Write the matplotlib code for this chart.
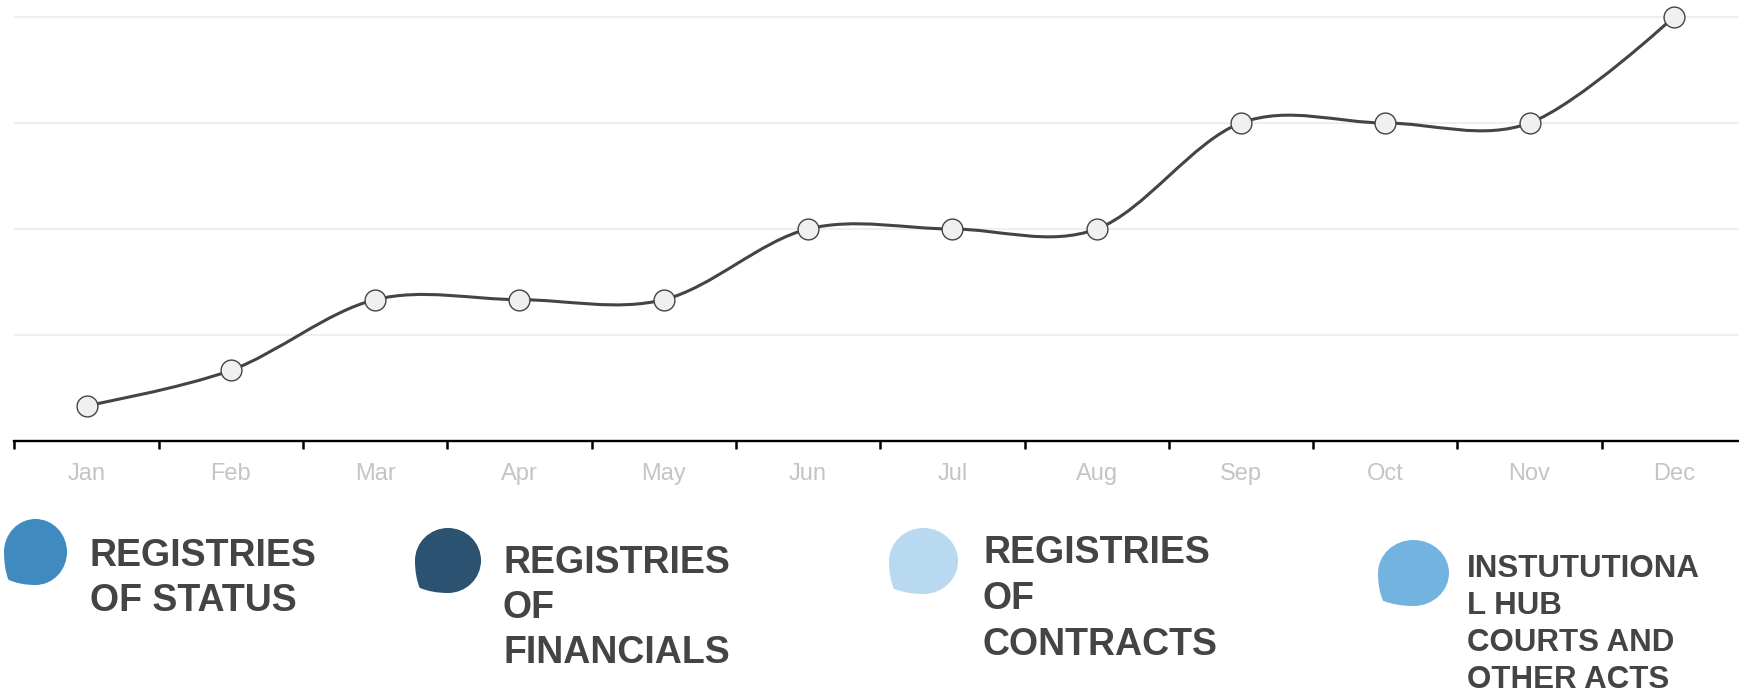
import numpy as np
import matplotlib
matplotlib.use('Agg')
from matplotlib import pyplot as plt
from matplotlib.path import Path
from matplotlib.patches import PathPatch

plt.rcParams['font.family'] = ['Liberation Sans', 'DejaVu Sans']

#########################################
### Data
#########################################
months = ['Jan', 'Feb', 'Mar', 'Apr', 'May', 'Jun',
          'Jul', 'Aug', 'Sep', 'Oct', 'Nov', 'Dec']
values = [1, 2, 4, 4, 4, 6, 6, 6, 9, 9, 9, 12]
grid_vals = [3, 6, 9, 12]

legend_labels = ['REGISTRIES\nOF STATUS',
                 'REGISTRIES\nOF\nFINANCIALS',
                 'REGISTRIES\nOF\nCONTRACTS',
                 'INSTUTUTIONA\nL HUB\nCOURTS AND\nOTHER ACTS']
legend_colors = ['#3f8bc0', '#2b5270', '#b8d9f0', '#72b3e0']

W, H = 1739, 693
fig = plt.figure(figsize=(W / 100, H / 100), dpi=100)

# main axes (pixel layout: axis line at y=441, left end at x=14)
x_left, x_right = 14.4, 1746.0
y_axis = 441.0
ax = fig.add_axes([x_left / W, (H - y_axis) / H, (x_right - x_left) / W, y_axis / H])
unit = (441 - 17) / 12.0
ax.set_xlim(-0.5, len(months) - 0.5)
ax.set_ylim(0, y_axis / unit)

for g in grid_vals:
    ax.axhline(g, color='#efefef', lw=1.5, zorder=1)

# cardinal spline (d3 curveCardinal style) through the data points
xs = np.arange(len(values), dtype=float)
ys = np.array(values, dtype=float)
pts = np.column_stack([xs, ys])
k = 1.0 / 6.0
verts = [tuple(pts[0])]
codes = [Path.MOVETO]
n = len(pts)
for i in range(n - 1):
    p_prev = pts[i - 1] if i > 0 else pts[i + 1]
    p_next = pts[i + 2] if i + 2 < n else pts[i]
    if i == 0:
        c1 = pts[0]
    else:
        c1 = pts[i] + k * (pts[i + 1] - p_prev)
    if i + 2 < n:
        c2 = pts[i + 1] - k * (p_next - pts[i])
    else:
        c2 = pts[i + 1]
    verts += [tuple(c1), tuple(c2), tuple(pts[i + 1])]
    codes += [Path.CURVE4] * 3
ax.add_patch(PathPatch(Path(verts, codes), facecolor='none', edgecolor='#444444',
                       lw=2.2, zorder=3, capstyle='round'))
ax.plot(xs, ys, 'o', ms=15, mfc='#f0f0f0', mec='#444444', mew=1.0, zorder=4, clip_on=False)

for s in ['top', 'right', 'left']:
    ax.spines[s].set_visible(False)
ax.spines['bottom'].set_color('black')
ax.spines['bottom'].set_linewidth(1.7)
ax.set_yticks([])
ax.set_xticks(xs)
ax.set_xticklabels(months, fontsize=17, color='#c4c4c4')
ax.set_xticks(np.arange(-0.5, len(months), 1.0), minor=True)
ax.tick_params(axis='x', which='major', length=0, pad=15.5)
ax.tick_params(axis='x', which='minor', length=5.5, width=1.8, color='black', direction='out')

# legend drawn in pixel coordinates
lax = fig.add_axes([0, 0, 1, 1])
lax.set_xlim(0, W)
lax.set_ylim(H, 0)
lax.axis('off')


def blob(x0, y0, w, h, color):
    # circle with a pointed lower-left corner
    c = 0.5523 * 0.5
    u = [(0.5, 0.0),
         (0.5 + c, 0.0), (1.0, 0.5 - c), (1.0, 0.5),
         (1.0, 0.5 + c), (0.5 + c, 1.0), (0.5, 1.0),
         (0.5 - c, 1.0), (0.0, 0.5 + c), (0.0, 0.5),
         (0.0, 0.25), (0.07, 0.08),
         (0.25, 0.0), (0.5, 0.0)]
    cd = [Path.MOVETO] + [Path.CURVE4] * 9 + [Path.CURVE3] * 4
    v = [(x0 + w * a, y0 + h - h * b) for a, b in u]
    lax.add_patch(PathPatch(Path(v, cd), facecolor=color, edgecolor='none'))


blob_boxes = [(4, 519, 63, 66), (415, 528, 66, 65), (889, 528, 69, 66), (1378, 540, 71, 66)]
text_x = [90, 503, 983, 1467]
first_base = [566, 573, 563, 577]
line_step = [45, 45, 46, 37]
font_sz = [27, 27, 27, 22.5]

for i, lab in enumerate(legend_labels):
    bx, by, bw, bh = blob_boxes[i]
    blob(bx, by, bw, bh, legend_colors[i])
    for j, line in enumerate(lab.split('\n')):
        lax.text(text_x[i], first_base[i] + j * line_step[i], line, fontsize=font_sz[i],
                 fontweight='bold', color='#444444', ha='left', va='baseline')

fig.savefig('out.png', dpi=100)
